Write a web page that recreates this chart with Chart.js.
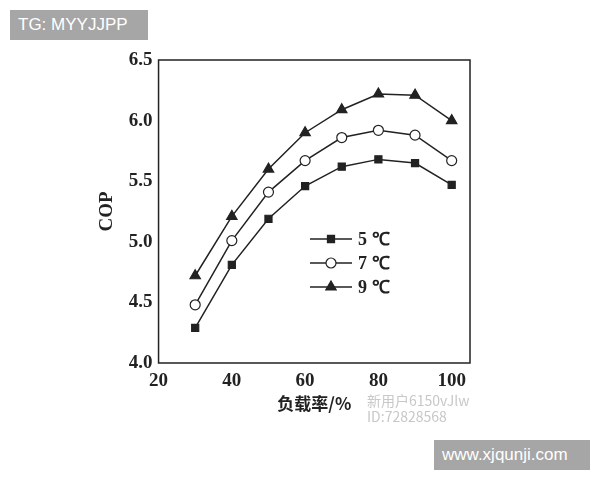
<!DOCTYPE html>
<html lang="zh">
<head>
    <meta charset="UTF-8">
    <title>COP vs 负载率</title>
    <script src="https://cdn.jsdelivr.net/npm/chart.js"></script>
    <style>
        body {
            margin: 0;
            background: #fff;
        }
        .wrap {
            position: relative;
            width: 600px;
            height: 480px;
        }
        .tag {
            position: absolute;
            background: #a6a6a6;
            color: #fff;
            font-family: "Liberation Sans", Arial, sans-serif;
            font-size: 17px;
            line-height: 30px;
            padding: 0 8px;
        }
        .faint {
            position: absolute;
            color: #c8c8c8;
            font-family: "Noto Sans CJK SC", sans-serif;
            font-size: 14px;
            line-height: 16px;
        }
    </style>
</head>
<body>
<div class="wrap">
    <canvas id="chart" width="600" height="480"></canvas>
    <div class="tag" style="left:10px; top:10px; width:122px;">TG: MYYJJPP</div>
    <div class="tag" style="left:434px; top:440px; width:140px;">www.xjqunji.com</div>
    <div class="faint" style="left:367px; top:392px;">新用户6150vJlw<br>ID:72828568</div>
</div>
<script>
    // 数据
    const loadRates = [30, 40, 50, 60, 70, 80, 90, 100];
    const cop5 = [4.29, 4.81, 5.19, 5.46, 5.62, 5.68, 5.65, 5.47];
    const cop7 = [4.48, 5.01, 5.41, 5.67, 5.86, 5.92, 5.88, 5.67];
    const cop9 = [4.72, 5.21, 5.60, 5.90, 6.09, 6.22, 6.21, 6.00];
    const seriesLabels = ['5 ℃', '7 ℃', '9 ℃'];
    const xTicks = [20, 40, 60, 80, 100];

    const serif = '"Liberation Serif", "Times New Roman", serif';

    function toPoints(ys) {
        return loadRates.map((x, i) => ({ x: x, y: ys[i] }));
    }

    // 外框
    const framePlugin = {
        id: 'frame',
        afterDraw(chart) {
            const a = chart.chartArea;
            const ctx = chart.ctx;
            ctx.save();
            ctx.strokeStyle = '#222';
            ctx.lineWidth = 1.5;
            ctx.strokeRect(a.left, a.top, a.right - a.left, a.bottom - a.top);
            ctx.restore();
        }
    };

    // 图内图例
    const insideLegend = {
        id: 'insideLegend',
        afterDraw(chart) {
            const ctx = chart.ctx;
            const x0 = 310, y0 = 239, gap = 24;
            ctx.save();
            chart.data.datasets.forEach((ds, i) => {
                const y = y0 + i * gap;
                ctx.strokeStyle = '#222';
                ctx.lineWidth = 1.5;
                ctx.beginPath();
                ctx.moveTo(x0, y);
                ctx.lineTo(x0 + 42, y);
                ctx.stroke();
                ctx.fillStyle = ds.pointBackgroundColor;
                ctx.lineWidth = ds.pointBorderWidth;
                Chart.helpers.drawPoint(ctx, {
                    pointStyle: ds.pointStyle,
                    radius: ds.pointRadius,
                    borderWidth: ds.pointBorderWidth
                }, x0 + 21, y);
                ctx.fillStyle = '#222';
                ctx.font = 'bold 18px ' + serif;
                ctx.textBaseline = 'middle';
                ctx.fillText(ds.label, x0 + 48, y + 1);
            });
            ctx.restore();
        }
    };

    const common = {
        borderColor: '#222',
        borderWidth: 1.5,
        pointBorderColor: '#222',
        pointBorderWidth: 1.2,
        fill: false,
        tension: 0
    };

    new Chart(document.getElementById('chart'), {
        type: 'line',
        data: {
            datasets: [
                Object.assign({}, common, {
                    label: seriesLabels[0], data: toPoints(cop5),
                    pointStyle: 'rect', pointRadius: 5, pointBackgroundColor: '#222'
                }),
                Object.assign({}, common, {
                    label: seriesLabels[1], data: toPoints(cop7),
                    pointStyle: 'circle', pointRadius: 5, pointBackgroundColor: '#fff'
                }),
                Object.assign({}, common, {
                    label: seriesLabels[2], data: toPoints(cop9),
                    pointStyle: 'triangle', pointRadius: 6, pointBackgroundColor: '#222'
                })
            ]
        },
        options: {
            responsive: false,
            animation: false,
            layout: {
                padding: { left: 96, right: 130, top: 60, bottom: 66 }
            },
            plugins: {
                legend: { display: false },
                tooltip: { enabled: false }
            },
            scales: {
                x: {
                    type: 'linear',
                    min: 20,
                    max: 105,
                    grid: { display: false, drawTicks: false },
                    border: { display: false },
                    afterBuildTicks: axis => {
                        axis.ticks = xTicks.map(v => ({ value: v }));
                    },
                    afterFit: axis => {
                        axis.height = 51;
                    },
                    ticks: {
                        padding: 7,
                        color: '#222',
                        font: { family: serif, size: 19, weight: 'bold' }
                    },
                    title: {
                        display: true,
                        text: '负载率/%',
                        color: '#222',
                        padding: 0,
                        font: { family: '"Noto Sans CJK SC", serif', size: 17, weight: 'bold' }
                    }
                },
                y: {
                    min: 4,
                    max: 6.5,
                    grid: { display: false, drawTicks: false },
                    border: { display: false },
                    ticks: {
                        stepSize: 0.5,
                        padding: 6,
                        color: '#222',
                        font: { family: serif, size: 19, weight: 'bold' },
                        callback: v => v.toFixed(1)
                    },
                    title: {
                        display: true,
                        text: 'COP',
                        color: '#222',
                        padding: { top: 0, bottom: 4 },
                        font: { family: serif, size: 19, weight: 'bold' }
                    }
                }
            }
        },
        plugins: [framePlugin, insideLegend]
    });
</script>
</body>
</html>
